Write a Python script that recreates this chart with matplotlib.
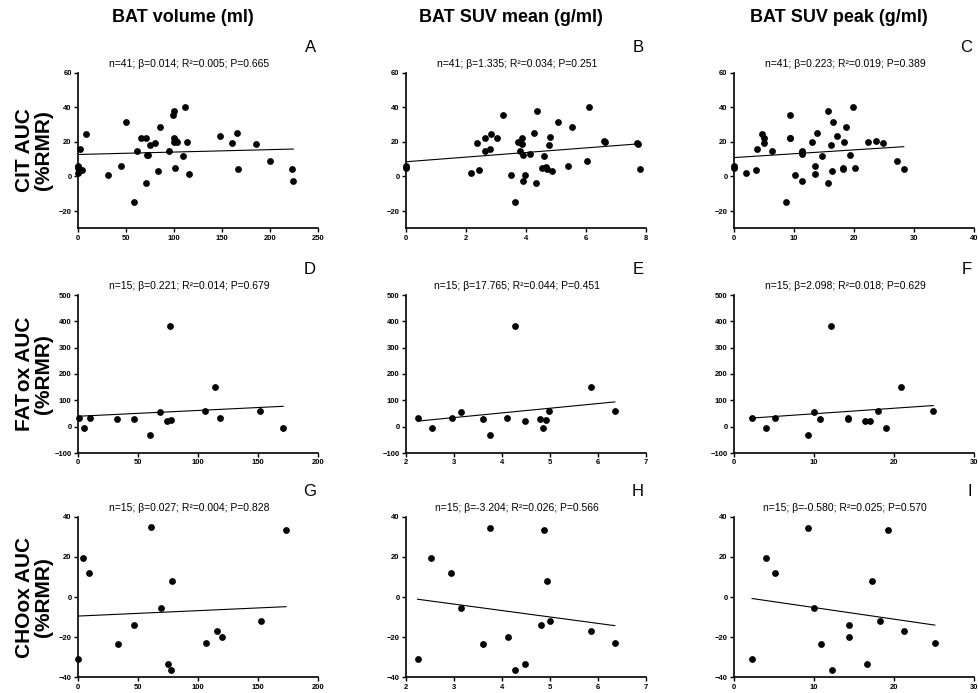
import matplotlib
matplotlib.use("Agg")
import matplotlib.pyplot as plt

plt.rcParams['font.family'] = ['Liberation Sans', 'DejaVu Sans']

# ---- row 1: CIT AUC (%RMR), n=41 ----
vol_cit = [0, 0, 0, 0, 2.4, 3.8, 8, 30.9, 44.4, 49.7, 58.3, 61.5, 66, 70.5, 71.5, 73.3,
           71.2, 74.7, 80.6, 83.3, 85, 95.1, 99, 100, 99.7, 100, 101.4, 102.4, 103.5,
           109.4, 111.5, 113.5, 115.3, 147.9, 160.8, 165.3, 167, 185, 200, 223.3, 224.3]
cit_a = [6, 4.6, 2.1, 5.2, 16, 4.0, 24.5, 0.6, 5.8, 31.2, -14.5, 14.8, 22, 22.5, 12.5, 12.5,
         -3.9, 18.1, 19.3, 3.1, 28.7, 14.6, 35.8, 37.6, 22.4, 19.8, 5.0, 20.6, 19.7,
         12.1, 40.1, 19.7, 1.2, 23.1, 19.5, 24.9, 4.2, 18.5, 9.2, 4.2, -2.7]

mean_cit = [0, 0, 2.17, 2.37, 2.44, 2.64, 2.64, 2.8, 2.84, 3.03, 3.24, 3.49, 3.62, 3.72,
            3.86, 3.81, 3.88, 3.91, 3.89, 3.98, 4.12, 4.27, 4.36, 4.32, 4.55, 4.6, 4.66,
            4.71, 4.76, 4.8, 4.87, 5.06, 5.4, 5.55, 6.6, 6.1, 6.05, 6.65, 7.7, 7.75, 7.8]
cit_b = [6, 4.6, 2.1, 19.3, 4.0, 22.4, 14.6, 16, 24.5, 22, 35.8, 0.6, -14.6, 19.7,
         18.7, 14.8, 22.5, 12.3, -2.9, 1.0, 12.7, 24.9, 37.6, -3.9, 5.0, 12, 5.2,
         4.2, 17.9, 23, 2.9, 31.2, 5.8, 28.7, 20.6, 40.1, 9.2, 19.7, 19.5, 18.5, 4.2]

peak_cit = [0, 0, 1.94, 3.67, 3.78, 4.72, 5.06, 5.06, 6.33, 8.6, 9.28, 9.28, 9.4, 10.2,
            11.4, 11.4, 11.4, 11.4, 13.05, 13.5, 13.5, 13.9, 14.6, 15.6, 15.6, 16.1,
            16.3, 16.5, 17.1, 18.1, 18.2, 18.3, 18.7, 19.4, 19.9, 20.1, 22.3, 23.7,
            24.8, 27.2, 28.3]
cit_c = [6, 4.6, 2.1, 4.0, 16, 24.5, 22.2, 19.3, 14.8, -14.6, 35.8, 22.4, 22, 0.6,
         14.8, 14.1, 12.7, -2.7, 19.7, 5.8, 1.2, 24.9, 12, 37.6, -3.9, 18.3,
         2.9, 31.2, 23.1, 5.0, 4.2, 19.7, 28.5, 12.3, 40.1, 5.0, 19.7, 20.4,
         19.5, 9.2, 4.4]

# ---- row 2: FATox AUC (%RMR), n=15 ----
vol_fat = [0.6, 5.3, 9.7, 32.9, 46.8, 60.4, 68.5, 74.1, 77.7, 76.3, 106, 114.5, 118.7, 151.5, 171]
fat_d = [33, -6.3, 34, 28, 29, -33, 54.5, 21.5, 24, 383, 61, 149.5, 33, 61, -6.3]

mean_fat = [2.25, 2.55, 2.95, 3.14, 3.61, 3.75, 4.11, 4.27, 4.47, 4.79, 4.86, 4.92, 4.97, 5.85, 6.35]
fat_e = [31.6, -6.3, 34, 54.4, 28, -33, 33, 383.5, 20.3, 29, -6.3, 24, 60.8, 149.5, 61]

peak_fat = [2.3, 4.05, 5.16, 9.25, 9.97, 10.8, 12.1, 14.2, 14.3, 16.4, 17.05, 18, 19.05, 20.9, 24.9]
fat_f = [31.6, -6.3, 34, -33, 54.4, 28, 382, 31.6, 28, 20.3, 22.8, 60.8, -6.3, 150.6, 60.8]

# ---- row 3: CHOox AUC (%RMR), n=15 ----
vol_cho = [0.3, 4.5, 9.5, 33.1, 46.8, 60.7, 69.1, 74.7, 77.2, 78, 107, 115.6, 119.8, 152.9, 173.3]
cho_g = [-30.8, 19.5, 12, -23.5, -14, 34.7, -5.5, -33.5, -36.3, 8, -23, -17, -20, -11.8, 33.2]

mean_cho = [2.24, 2.53, 2.94, 3.14, 3.61, 3.75, 4.13, 4.28, 4.48, 4.81, 4.87, 4.93, 4.99, 5.85, 6.35]
cho_h = [-31, 19.5, 12, -5.5, -23.5, 34.5, -20, -36.3, -33.5, -14, 33.2, 8, -11.8, -17, -23]

peak_cho = [2.26, 3.96, 5.16, 9.3, 10.06, 10.9, 12.2, 14.4, 14.4, 16.6, 17.2, 18.2, 19.2, 21.2, 25.1]
cho_i = [-31, 19.5, 12, 34.5, -5.5, -23.5, -36.3, -14, -20, -33.5, 8, -11.8, 33.2, -17, -23]

# regression slopes (from the stats), intercepts, and the stats lines
betas = [0.014, 1.335, 0.223, 0.221, 17.765, 2.098, 0.027, -3.204, -0.580]
intercepts = [12.7, 8.5, 10.9, 39.5, -18.8, 28.0, -9.5, 6.07, 0.56]
stats = [
    "n=41; \u03b2=0.014; R\u00b2=0.005; P=0.665",
    "n=41; \u03b2=1.335; R\u00b2=0.034; P=0.251",
    "n=41; \u03b2=0.223; R\u00b2=0.019; P=0.389",
    "n=15; \u03b2=0.221; R\u00b2=0.014; P=0.679",
    "n=15; \u03b2=17.765; R\u00b2=0.044; P=0.451",
    "n=15; \u03b2=2.098; R\u00b2=0.018; P=0.629",
    "n=15; \u03b2=0.027; R\u00b2=0.004; P=0.828",
    "n=15; \u03b2=-3.204; R\u00b2=0.026; P=0.566",
    "n=15; \u03b2=-0.580; R\u00b2=0.025; P=0.570",
]
letters = list("ABCDEFGHI")

col_titles = ["BAT volume (ml)", "BAT SUV mean (g/ml)", "BAT SUV peak (g/ml)"]
row_titles = ["CIT AUC\n(%RMR)", "FAT\u200aox AUC\n(%RMR)", "CHOox AUC\n(%RMR)"]

xs = [vol_cit, mean_cit, peak_cit, vol_fat, mean_fat, peak_fat, vol_cho, mean_cho, peak_cho]
ys = [cit_a, cit_b, cit_c, fat_d, fat_e, fat_f, cho_g, cho_h, cho_i]

x_limits = [(0, 250), (0, 8), (0, 40), (0, 200), (2, 7), (0, 30), (0, 200), (2, 7), (0, 30)]
x_ticks = [range(0, 251, 50), range(0, 9, 2), range(0, 41, 10),
           range(0, 201, 50), range(2, 8), range(0, 31, 10),
           range(0, 201, 50), range(2, 8), range(0, 31, 10)]
y_limits = [(-30, 60), (-100, 500), (-40, 40)]
y_ticks = [range(-20, 61, 20), range(-100, 501, 100), range(-40, 41, 20)]

# layout in pixels
W, H = 979, 693
fig = plt.figure(figsize=(W / 100, H / 100), dpi=100)
col_left = [78, 406, 734]
panel_w = 240
row_top = [72.7, 295, 516.7]
row_bottom = [228.3, 453, 677.3]

for i in range(9):
    r, c = divmod(i, 3)
    x0, top, bot = col_left[c], row_top[r], row_bottom[r]
    ax = fig.add_axes([x0 / W, 1 - bot / H, panel_w / W, (bot - top) / H])
    ax.scatter(xs[i], ys[i], s=15, color='black', zorder=3, clip_on=False)
    lx = [min(xs[i]), max(xs[i])]
    ax.plot(lx, [intercepts[i] + betas[i] * v for v in lx], color='black', lw=0.8)

    ax.set_xlim(*x_limits[i])
    ax.set_ylim(*y_limits[r])
    ax.set_xticks(list(x_ticks[i]))
    ax.set_yticks(list(y_ticks[r]))
    for side in ('top', 'right'):
        ax.spines[side].set_visible(False)
    for side in ('left', 'bottom'):
        ax.spines[side].set_linewidth(1.2)
    ax.tick_params(direction='out', length=3, width=1, labelsize=5.5, pad=1.5)
    for lab in ax.get_xticklabels() + ax.get_yticklabels():
        lab.set_fontweight('bold')

    fig.text((x0 + panel_w / 2 - 9) / W, 1 - (top - 4) / H, stats[i],
             ha='center', va='bottom', fontsize=7.5)
    fig.text((x0 + panel_w - 2) / W, 1 - (top - 25) / H, letters[i],
             ha='right', va='center', fontsize=12)

for c in range(3):
    fig.text((col_left[c] + panel_w / 2 - 15) / W, 1 - 18 / H, col_titles[c],
             ha='center', va='center', fontsize=13, fontweight='bold')

for r in range(3):
    mid = (row_top[r] + row_bottom[r]) / 2
    fig.text(34 / W, 1 - mid / H, row_titles[r], rotation=90, ha='center', va='center',
             fontsize=15, fontweight='bold', linespacing=1.0)

fig.savefig("out.png", dpi=100)
